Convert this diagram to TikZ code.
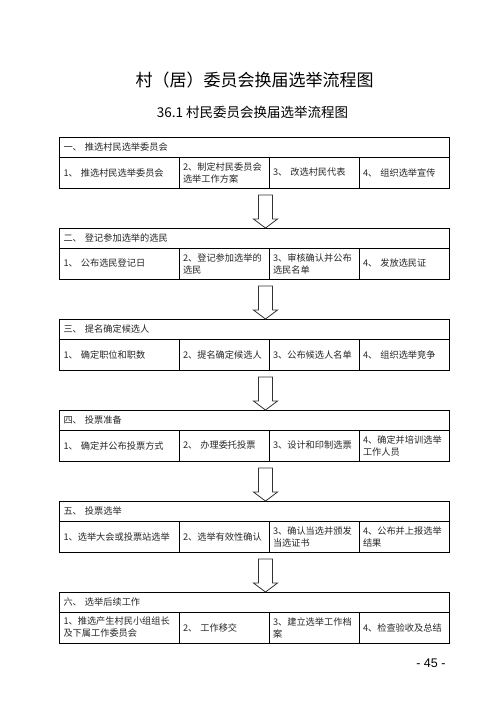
\documentclass[tikz,border=0pt]{standalone}
\usepackage{fontspec}
\setmainfont{Noto Sans CJK SC}
\newfontfamily\numfont{Liberation Sans}
\usetikzlibrary{positioning}
\begin{document}
\begin{tikzpicture}[x=1pt,y=-1pt,font=\fontsize{9.2}{12}\selectfont,
        headbox/.style={draw,line width=1pt,anchor=north west,minimum height=20pt,text width=381.5pt,
            inner xsep=4pt,inner ysep=2pt,outer sep=0pt,align=left,text=black!85},
        cellbox/.style={draw,line width=1pt,minimum height=31pt,text width=#1,
            inner xsep=4pt,inner ysep=2pt,outer sep=0pt,align=left,text=black!85},
        hollow/.style={draw=black!80,line width=0.8pt,line join=miter}]
    \useasboundingbox (0,0) rectangle (496,702);
    \node (title) at (254.5,80) {\fontsize{17}{20}\selectfont 村（居）委员会换届选举流程图};
    \node (subtitle) at (252.5,112) {\fontsize{13.5}{16}\selectfont 36.1 村民委员会换届选举流程图};
    \foreach \i/\hd/\ca/\cb/\cc/\cd in {
        1/{一、 推选村民选举委员会}/{1、 推选村民选举委员会}/{2、制定村民委员会\\选举工作方案}/{3、 改选村民代表}/{4、 组织选举宣传},
        2/{二、 登记参加选举的选民}/{1、 公布选民登记日}/{2、登记参加选举的\\选民}/{3、审核确认并公布\\选民名单}/{4、 发放选民证},
        3/{三、 提名确定候选人}/{1、 确定职位和职数}/{2、提名确定候选人}/{3、公布候选人名单}/{4、 组织选举竞争},
        4/{四、 投票准备}/{1、 确定并公布投票方式}/{2、 办理委托投票}/{3、设计和印制选票}/{4、确定并培训选举\\工作人员},
        5/{五、 投票选举}/{1、选举大会或投票站选举}/{2、选举有效性确认}/{3、确认当选并颁发\\当选证书}/{4、公布并上报选举\\结果},
        6/{六、 选举后续工作}/{1、推选产生村民小组组长\\及下属工作委员会}/{2、 工作移交}/{3、建立选举工作档\\案}/{4、检查验收及总结}}
    {
        \node[headbox] (h\i) at (59.5,{137+91*(\i-1)}) {\hd};
        \node[cellbox=111.5pt,anchor=north west] (c\i1) at (h\i.south west) {\ca};
        \node[cellbox=82pt,right=0pt of c\i1] (c\i2) {\cb};
        \node[cellbox=82pt,right=0pt of c\i2] (c\i3) {\cc};
        \node[cellbox=82pt,right=0pt of c\i3] (c\i4) {\cd};
    }
    \coordinate (axis) at (265.5,0);
    \foreach \i [count=\j from 2] in {1,...,5}
        \draw[hollow] (axis |- h\j.north) -- ++(-12,-9) -- ++(5,0) -- ++(0,-24) -- ++(14,0)
            -- ++(0,24) -- ++(5,0) -- cycle;
    \node[anchor=east] (page) at (449,663) {\numfont\fontsize{12.5}{14}\selectfont - 45 -};
\end{tikzpicture}
\end{document}
